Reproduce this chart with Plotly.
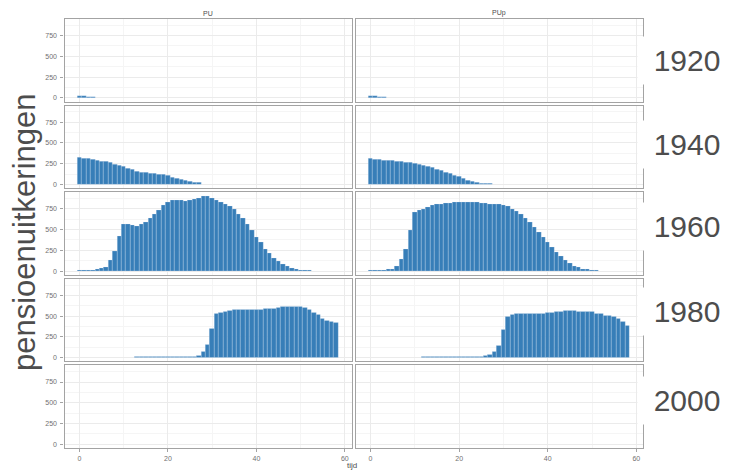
import plotly.graph_objects as go

# ---------------- data ----------------
years = ["1920", "1940", "1960", "1980", "2000"]
series = ["PU", "PUp"]

tijd_1920 = [0, 1, 2, 3]
pu_1920 = [24, 22, 10, 8]
pup_1920 = [22, 20, 8, 6]

tijd_1940 = list(range(0, 28))
pu_1940 = [322, 314, 310, 298, 286, 278, 270, 262, 238, 230,
           214, 193, 181, 161, 149, 141, 133, 129, 121, 113,
           101, 85, 69, 60, 44, 32, 24, 20]
pup_1940 = [310, 302, 294, 290, 286, 282, 278, 270, 266, 262,
            254, 242, 230, 218, 202, 185, 165, 149, 129, 109,
            89, 69, 48, 36, 24, 16, 12, 8]

tijd_1960_pu = list(range(0, 53))
pu_1960 = [8, 8, 16, 16, 20, 36, 44, 128, 245, 421,
           561, 561, 553, 545, 561, 589, 634, 682, 738, 794,
           830, 850, 850, 850, 842, 858, 870, 878, 898, 898,
           882, 850, 826, 810, 778, 742, 690, 634, 561, 489,
           409, 349, 269, 217, 156, 116, 84, 56, 32, 20,
           12, 8, 8]
tijd_1960_pup = list(range(0, 52))
pup_1960 = [8, 8, 16, 16, 20, 28, 56, 148, 269, 489,
            706, 730, 750, 770, 790, 802, 810, 818, 822, 826,
            826, 834, 826, 826, 826, 822, 818, 810, 810, 802,
            794, 778, 750, 718, 682, 634, 586, 529, 473, 409,
            349, 289, 229, 176, 128, 96, 64, 44, 28, 20,
            12, 8]

tijd_1980_pu = list(range(13, 59))
pu_1980 = [10, 10, 10, 10, 10, 10, 10, 10, 10, 10, 10, 10, 10,
           12, 25, 75, 150, 345, 525, 543, 552, 563, 572, 578,
           580, 580, 580, 582, 582, 585, 585, 585, 596, 612,
           614, 614, 614, 612, 596, 572, 540, 522, 470, 450,
           438, 424]
tijd_1980_pup = list(range(12, 59))
pup_1980 = [8, 8, 8, 8, 8, 8, 8, 8, 8, 8, 8, 8, 8, 8,
            20, 30, 73, 147, 335, 498, 514, 526, 526, 530, 530,
            530, 530, 530, 539, 539, 547, 547, 563, 563, 563,
            555, 555, 547, 547, 530, 530, 502, 502, 490, 473,
            432, 388]

tijd_2000 = []
pu_2000 = []
pup_2000 = []

panels = {
    ("1920", "PU"): (tijd_1920, pu_1920), ("1920", "PUp"): (tijd_1920, pup_1920),
    ("1940", "PU"): (tijd_1940, pu_1940), ("1940", "PUp"): (tijd_1940, pup_1940),
    ("1960", "PU"): (tijd_1960_pu, pu_1960), ("1960", "PUp"): (tijd_1960_pup, pup_1960),
    ("1980", "PU"): (tijd_1980_pu, pu_1980), ("1980", "PUp"): (tijd_1980_pup, pup_1980),
    ("2000", "PU"): (tijd_2000, pu_2000), ("2000", "PUp"): (tijd_2000, pup_2000),
}

x_ticks = [0, 20, 40, 60]
y_ticks = [0, 250, 500, 750]

# ---------------- layout geometry ----------------
W, H = 729, 472
xcols = [(64.5, 351.5), (355.5, 643.0)]
top, bot, gap, nrow = 19.0, 448.0, 4.0, 5
ph = (bot - top - gap * (nrow - 1)) / nrow
label_y_px = [60, 145, 226, 311, 400]   # vertical centres of the row labels

BAR = "#377eb8"
GRID = "#ebebeb"
MINOR = "#f5f5f5"
BORDER = "#a3a3a3"
TXT = "#4d4d4d"
TICKTXT = "#707070"
FONT = "Liberation Sans, Arial, sans-serif"

fig = go.Figure()
layout = dict(
    width=W, height=H, margin=dict(l=0, r=0, t=0, b=0),
    paper_bgcolor="white", plot_bgcolor="white", showlegend=False,
    bargap=0, font=dict(family=FONT, color=TXT),
)

annotations = []
for r, yr in enumerate(years):
    y_top = top + r * (ph + gap)
    y_bot = y_top + ph
    for c, s in enumerate(series):
        idx = r * 2 + c + 1
        xname = "x" if idx == 1 else f"x{idx}"
        yname = "y" if idx == 1 else f"y{idx}"
        xs, ys = panels[(yr, s)]
        fig.add_trace(go.Bar(
            x=xs, y=ys, width=1.0, xaxis=xname, yaxis=yname,
            marker=dict(color=BAR, line=dict(color="rgba(235,242,250,0.45)", width=0.5)),
            hoverinfo="x+y",
        ))
        x0, x1 = xcols[c]
        xa = dict(
            domain=[x0 / W, x1 / W], anchor=yname, range=[-3.4, 61.5],
            tickvals=x_ticks, showticklabels=(r == nrow - 1),
            ticks="outside" if r == nrow - 1 else "", ticklen=3, tickcolor=BORDER,
            tickfont=dict(size=7, color=TICKTXT, family=FONT),
            showgrid=True, gridcolor=GRID, gridwidth=1,
            minor=dict(showgrid=True, gridcolor=MINOR, gridwidth=0.6, tickvals=[10, 30, 50]),
            showline=True, mirror=True, linecolor=BORDER, linewidth=1.3,
            zeroline=False, fixedrange=True,
        )
        ya = dict(
            domain=[1 - y_bot / H, 1 - y_top / H], anchor=xname, range=[-45, 950],
            tickvals=y_ticks, showticklabels=(c == 0),
            ticks="outside" if c == 0 else "", ticklen=3, tickcolor=BORDER,
            tickfont=dict(size=7, color=TICKTXT, family=FONT), ticklabelstandoff=2,
            showgrid=True, gridcolor=GRID, gridwidth=1,
            minor=dict(showgrid=True, gridcolor=MINOR, gridwidth=0.6, tickvals=[125, 375, 625, 875]),
            showline=True, mirror=True, linecolor=BORDER, linewidth=1.3,
            zeroline=False, fixedrange=True,
        )
        layout["xaxis" if idx == 1 else f"xaxis{idx}"] = xa
        layout["yaxis" if idx == 1 else f"yaxis{idx}"] = ya
    # row strip label
    annotations.append(dict(
        text=yr, x=687 / W, y=1 - label_y_px[r] / H, xref="paper", yref="paper",
        showarrow=False, font=dict(size=30, color=TXT, family=FONT),
        bgcolor="white", width=84, borderpad=7, xanchor="center", yanchor="middle",
    ))

for c, s in enumerate(series):
    x0, x1 = xcols[c]
    annotations.append(dict(
        text=s, x=(x0 + x1) / 2 / W, y=1 - 13 / H, xref="paper", yref="paper",
        showarrow=False, font=dict(size=7, color=TXT, family=FONT),
        xanchor="center", yanchor="middle",
    ))

annotations.append(dict(
    text="tijd", x=352 / W, y=1 - 465 / H, xref="paper", yref="paper",
    showarrow=False, font=dict(size=8, color=TXT, family=FONT),
    xanchor="center", yanchor="middle",
))
annotations.append(dict(
    text="pensioenuitkeringen", x=24 / W, y=1 - 232 / H, xref="paper", yref="paper",
    showarrow=False, textangle=-90, font=dict(size=31, color=TXT, family=FONT),
    xanchor="center", yanchor="middle",
))

layout["annotations"] = annotations
fig.update_layout(**layout)
fig.write_html(
    "out.html",
    config={"displayModeBar": False},
    post_script="document.body.style.margin='0';document.body.style.padding='0';"
                "document.body.style.overflow='hidden';",
)
